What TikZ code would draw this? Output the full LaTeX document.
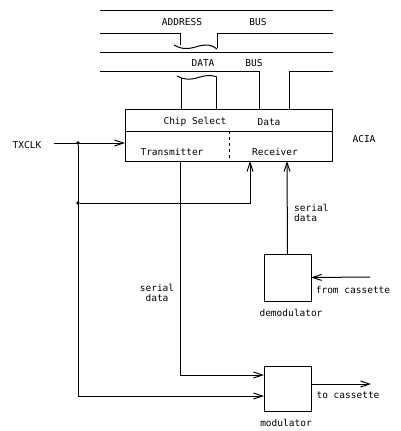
\documentclass[tikz,border=0pt]{standalone}
\usepackage{fontspec}
\setmainfont{DejaVu Sans Mono}
\usetikzlibrary{arrows.meta}
\tikzset{
  ln/.style={line width=1pt},
  arr/.style={line width=1pt,-{Straight Barb[length=9pt,width=6pt]}},
  blk/.style={draw,line width=1pt,inner sep=0pt,outer sep=0pt},
  lbl/.style={font=\fontsize{9.5}{10.5}\selectfont,inner sep=0pt},
  dotn/.style={circle,fill,inner sep=0pt,minimum size=3.6pt}
}
\begin{document}
\begin{tikzpicture}[x=1pt,y=-1pt]
\useasboundingbox (0,0) rectangle (400,431);
% buses
\draw[ln] (100,10) -- (333,10);
\node[lbl] (addr) at (182,22) {ADDRESS};
\node[lbl] (abus) at (258,22) {BUS};
\draw[ln] (100,33) -- (180,33) -- (180,45);
\draw[ln] (217,48) -- (217,33) -- (333,33);
\draw[ln] (174,45) .. controls (184,51) and (192,48) .. (199,46) .. controls (207,44) and (212,45) .. (217,49);
\draw[ln] (100,52) -- (333,52);
\node[lbl] (data) at (203,63) {DATA};
\node[lbl] (dbus) at (254,63) {BUS};
\draw[ln] (100,71) -- (259,71) -- (259,109);
\draw[ln] (289,109) -- (289,71) -- (333,71);
\draw[ln] (177,76) .. controls (186,81) and (194,79) .. (200,77) .. controls (207,75) and (212,75) .. (217,77);
\draw[ln] (181,78) -- (181,109);
\draw[ln] (216,77) -- (216,109);
% ACIA
\node[blk,minimum width=207pt,minimum height=52pt,anchor=north west] (acia) at (125,109) {};
\draw[ln] (125,131) -- (332,131);
\draw[line width=0.6pt,dashed] (229,131) -- (229,161);
\node[lbl] (cs) at (195,122) {Chip Select};
\node[lbl] (dt) at (269,122) {Data};
\node[lbl] (tx) at (172,152) {Transmitter};
\node[lbl] (rx) at (275,152) {Receiver};
\node[lbl] (aname) at (364,139) {ACIA};
% TXCLK
\node[lbl] (txclk) at (27,145) {TXCLK};
\coordinate (tin) at (54,143);
\coordinate (tbox) at (125,143);
\node[dotn] (d1) at (78,143) {};
\node[dotn] (d2) at (78,203) {};
\coordinate (d3) at (78,396);
\draw[arr] (tin) -- (tbox);
\draw[ln] (d1) -- (d3);
\coordinate (rxa) at (250,161);
\draw[arr] (d2) -| (rxa);
% demodulator
\node[blk,minimum width=47pt,minimum height=47pt] (demod) at (287.5,277.5) {};
\node[lbl] (demodl) at (291,313) {demodulator};
\coordinate (rxb) at (287,161);
\draw[arr] (demod.north) -- (rxb);
\node[lbl,align=left,anchor=west] (sd1) at (294,213) {serial\\data};
\coordinate (fc) at (370,277);
\draw[arr] (fc) -- (demod.east);
\node[lbl] (fcl) at (353,290) {from cassette};
% transmitter output
\node[blk,minimum width=47pt,minimum height=45pt] (mod) at (287.5,388.5) {};
\node[lbl] (modl) at (286,423) {modulator};
\coordinate (txo) at (180,161);
\coordinate (txc) at (180,375);
\draw[arr] (txo) -- (txc) -- (mod.west |- txc);
\draw[arr] (d3) -- (mod.west |- d3);
\node[lbl,align=center] (sd2) at (157,293) {serial\\data};
\coordinate (tc) at (371,384);
\draw[arr] (mod.east |- tc) -- (tc);
\node[lbl] (tcl) at (348,395) {to cassette};
\end{tikzpicture}
\end{document}
